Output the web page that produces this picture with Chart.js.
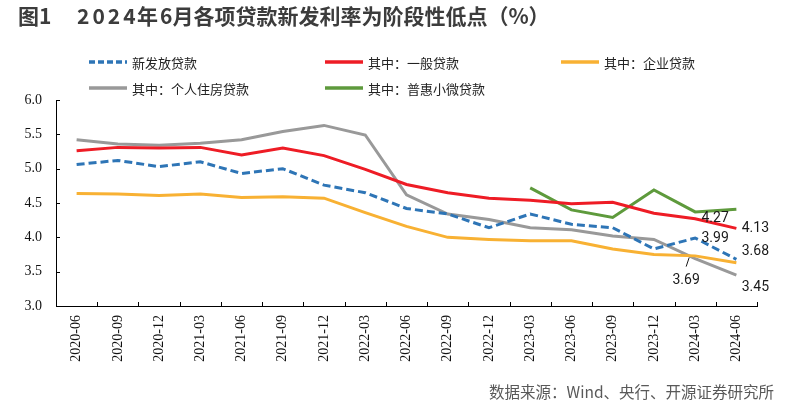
<!DOCTYPE html>
<html>
<head>
<meta charset="utf-8">
<script src="https://cdn.jsdelivr.net/npm/chart.js@4.4.1/dist/chart.umd.min.js"></script>
<style>
  html, body { margin: 0; padding: 0; background: #fff; }
  #wrap { position: relative; width: 794px; height: 412px; }
</style>
</head>
<body>
<div id="wrap"><canvas id="rateChart" width="794" height="412"></canvas></div>
<script>
// 数据（%）
const months = ['2020-06','2020-09','2020-12','2021-03','2021-06','2021-09','2021-12','2022-03','2022-06','2022-09','2022-12','2023-03','2023-06','2023-09','2023-12','2024-03','2024-06'];
const newLoans   = [5.06, 5.12, 5.03, 5.10, 4.93, 5.00, 4.76, 4.65, 4.42, 4.34, 4.14, 4.34, 4.19, 4.14, 3.83, 3.99, 3.68];
const generalLoans = [5.26, 5.31, 5.30, 5.31, 5.20, 5.30, 5.19, 4.99, 4.77, 4.65, 4.57, 4.54, 4.49, 4.51, 4.35, 4.27, 4.13];
const corpLoans  = [4.64, 4.63, 4.61, 4.63, 4.58, 4.59, 4.57, 4.36, 4.16, 4.00, 3.97, 3.95, 3.95, 3.83, 3.75, 3.73, 3.63];
const mortgage   = [5.42, 5.36, 5.34, 5.37, 5.42, 5.54, 5.63, 5.49, 4.62, 4.34, 4.26, 4.14, 4.11, 4.02, 3.97, 3.69, 3.45];
const smallBiz   = [null, null, null, null, null, null, null, null, null, null, null, 4.72, 4.40, 4.29, 4.69, 4.37, 4.41];
const yTicks = [3.0, 3.5, 4.0, 4.5, 5.0, 5.5, 6.0];

// 标注：[数据集序号, 点序号, dx, dy]
const pointNotes = [
  [1, 15, 20, 0],
  [0, 15, 20, 0],
  [3, 15, -9, 22],
  [1, 16, 19, 0],
  [0, 16, 19, -8],
  [3, 16, 19, 12]
];

const sans = '"Noto Sans CJK SC", "Noto Sans", sans-serif';
const serif = '"Liberation Serif", "DejaVu Serif", serif';

const line = (label, data, color, extra) => Object.assign({
  label, data, borderColor: color, backgroundColor: color,
  borderWidth: 3, pointRadius: 0, tension: 0, fill: false, spanGaps: false
}, extra || {});

const datasets = [
  line('新发放贷款', newLoans, '#2E75B6', { borderDash: [8, 4] }),
  line('其中：一般贷款', generalLoans, '#EE1C25'),
  line('其中：企业贷款', corpLoans, '#F8B133'),
  line('其中：个人住房贷款', mortgage, '#999999'),
  line('其中：普惠小微贷款', smallBiz, '#5E9A3C')
];

const legendSlots = [[89, 62], [325, 62], [561, 62], [89, 88], [325, 88]];
// 标题分段排版，数字字距较宽
const titleParts = [['图1', 18, 0], ['2024', 77, 3], ['年', 137, 0], ['6月各项贷款新发利率为阶段性低点（%）', 160, 0]];

const decor = {
  id: 'decor',
  afterDraw(chart) {
    const ctx = chart.ctx;
    const x = chart.scales.x, y = chart.scales.y;
    const area = chart.chartArea;
    ctx.save();

    // 标题
    ctx.fillStyle = '#3C3C3C';
    ctx.font = 'bold 21px ' + sans;
    ctx.textAlign = 'left';
    ctx.textBaseline = 'middle';
    titleParts.forEach(([t, tx, sp]) => {
      ctx.letterSpacing = sp + 'px';
      ctx.fillText(t, tx, 16);
    });
    ctx.letterSpacing = '0px';

    // 来源
    ctx.fillStyle = '#595959';
    ctx.font = '15.5px ' + sans;
    ctx.textAlign = 'right';
    ctx.fillText('数据来源：Wind、央行、开源证券研究所', 774, 392);

    // 图例
    ctx.textAlign = 'left';
    ctx.font = '13px ' + sans;
    chart.data.datasets.forEach((ds, i) => {
      const [lx, ly] = legendSlots[i];
      ctx.beginPath();
      ctx.strokeStyle = ds.borderColor;
      ctx.lineWidth = 3.5;
      ctx.setLineDash(ds.borderDash ? [6, 3] : []);
      ctx.moveTo(lx, ly);
      ctx.lineTo(lx + 38, ly);
      ctx.stroke();
      ctx.setLineDash([]);
      ctx.fillStyle = '#222';
      ctx.fillText(ds.label, lx + 43, ly + 1);
    });

    // 坐标轴刻度（朝内）
    ctx.strokeStyle = '#000';
    ctx.lineWidth = 1;
    const n = chart.data.labels.length;
    const step = (area.right - area.left) / n;
    for (let i = 1; i <= n; i++) {
      const px = Math.round(area.left + i * step) + 0.5;
      ctx.beginPath();
      ctx.moveTo(px, area.bottom);
      ctx.lineTo(px, area.bottom - 4);
      ctx.stroke();
    }
    yTicks.forEach(v => {
      const py = Math.round(y.getPixelForValue(v)) + 0.5;
      ctx.beginPath();
      ctx.moveTo(area.left, py);
      ctx.lineTo(area.left + 4, py);
      ctx.stroke();
    });

    // 数据标注
    ctx.font = '14px Roboto, "Liberation Sans", sans-serif';
    ctx.fillStyle = '#1A1A1A';
    ctx.textAlign = 'center';
    ctx.textBaseline = 'middle';
    pointNotes.forEach(([di, pi, dx, dy]) => {
      const v = chart.data.datasets[di].data[pi];
      const px = x.getPixelForValue(pi);
      const py = y.getPixelForValue(v);
      ctx.fillText(v.toFixed(2), px + dx, py + dy);
      if (dy > 15) {
        ctx.beginPath();
        ctx.strokeStyle = '#1A1A1A';
        ctx.lineWidth = 1;
        ctx.moveTo(px - 6, py - 1);
        ctx.lineTo(px - 9, py + 8);
        ctx.stroke();
      }
    });
    ctx.restore();
  }
};

new Chart(document.getElementById('rateChart'), {
  type: 'line',
  data: { labels: months, datasets },
  plugins: [decor],
  options: {
    responsive: false,
    animation: false,
    layout: { padding: { top: 100, right: 37, left: 0, bottom: 0 } },
    plugins: { legend: { display: false }, tooltip: { enabled: false } },
    scales: {
      x: {
        offset: true,
        grid: { display: true, drawOnChartArea: false, drawTicks: false, offset: true },
        border: { display: true, color: '#000', width: 1 },
        ticks: {
          autoSkip: false, maxRotation: 90, minRotation: 90, padding: 9,
          color: '#111', font: { family: serif, size: 14 }
        },
        afterFit: s => { s.height = 106; }
      },
      y: {
        min: 3, max: 6,
        grid: { display: true, drawOnChartArea: false, drawTicks: false },
        border: { display: true, color: '#000', width: 1 },
        afterBuildTicks: s => { s.ticks = yTicks.map(v => ({ value: v })); },
        ticks: {
          padding: 14, color: '#111', font: { family: serif, size: 14 },
          callback: v => Number(v).toFixed(1)
        },
        afterFit: s => { s.width = 56; }
      }
    }
  }
});
</script>
</body>
</html>
